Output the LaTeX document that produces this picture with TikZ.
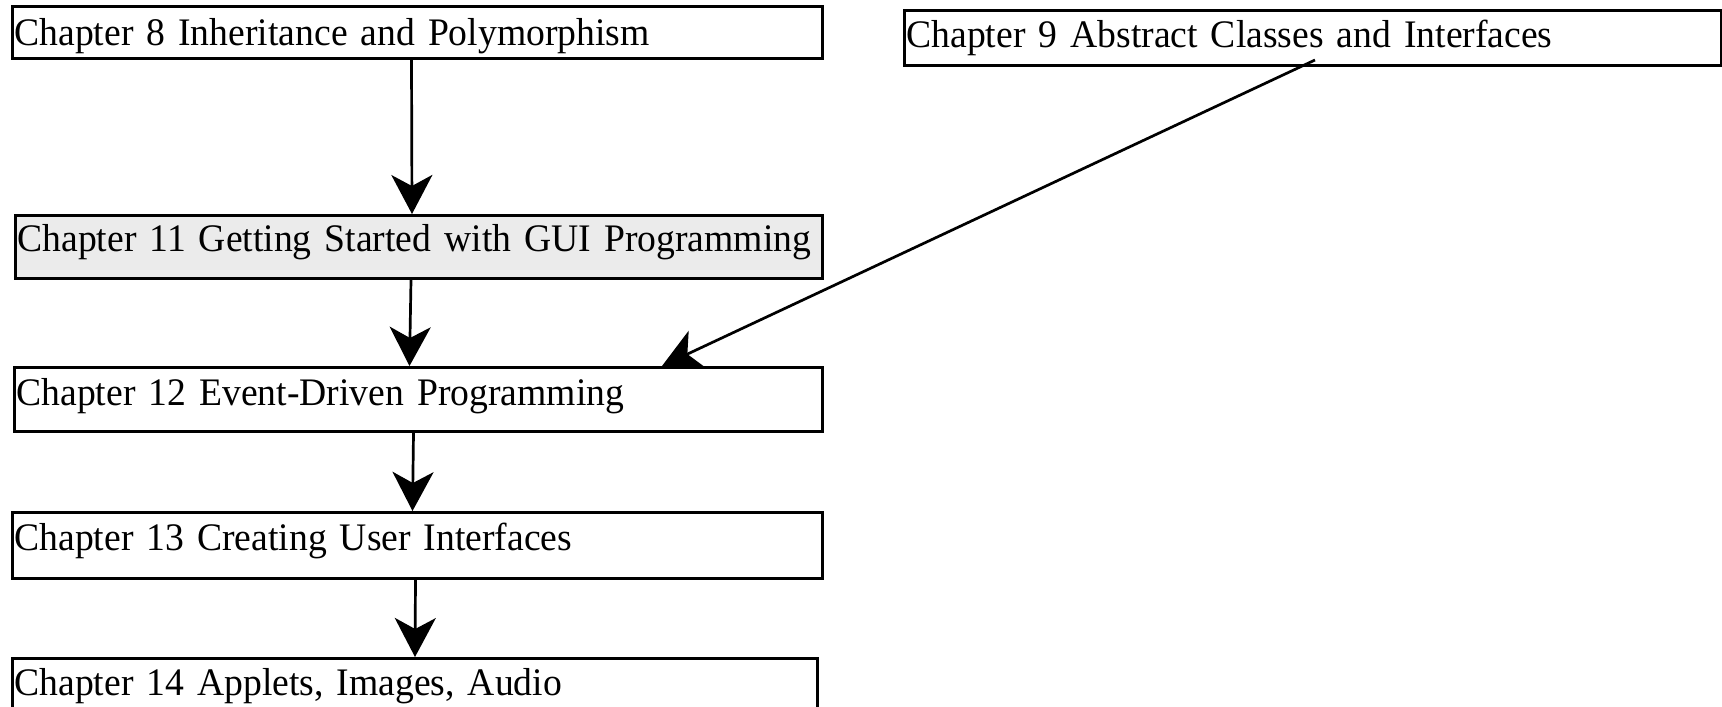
\documentclass[tikz,border=0pt]{standalone}
\usepackage{fontspec}
\setmainfont{Liberation Serif}[FakeStretch=0.965]
\usetikzlibrary{arrows.meta,calc}

\tikzset{
  chapbox/.style={draw=black, line width=3pt, rectangle, anchor=north west,
    inner xsep=2pt, inner ysep=0pt, align=left, text height=26pt,
    font=\fontsize{39}{42}\selectfont},
  flow/.style={line width=2.7pt, -{Stealth[length=39pt,width=41pt,inset=11pt]}},
}

\begin{document}
\begin{tikzpicture}[x=1pt,y=-1pt]
  \useasboundingbox (0,0) rectangle (1722,707);

  % chapter boxes
  \node[chapbox, minimum width=810pt, minimum height=52pt, text width=806pt, text depth=0pt]
    (b8) at (11,5) {Chapter 8 Inheritance and Polymorphism};
  \node[chapbox, minimum width=817pt, minimum height=55pt, text width=813pt, text depth=7pt]
    (b9) at (903,9) {Chapter 9 Abstract Classes and Interfaces};
  \node[chapbox, fill=black!8, minimum width=807pt, minimum height=63pt, text width=803pt, text depth=17pt]
    (b11) at (14,214) {Chapter 11 Getting Started with GUI Programming};
  \node[chapbox, minimum width=808pt, minimum height=64pt, text width=804pt, text depth=14pt]
    (b12) at (13,366) {Chapter 12 Event-Driven Programming};
  \node[chapbox, minimum width=810pt, minimum height=66pt, text width=806pt, text depth=16pt]
    (b13) at (11,511) {Chapter 13 Creating User Interfaces};
  \node[chapbox, minimum width=805pt, minimum height=63pt, text width=801pt, text depth=15pt]
    (b14) at (11,657) {Chapter 14 Applets, Images, Audio};

  % dependencies
  \draw[flow] ([xshift=-6pt]b8.south) -- ([xshift=-7pt]b11.north);
  \draw[flow] ([xshift=-8pt]b11.south) -- ([xshift=-9pt]b12.north);
  \draw[flow] ([xshift=-5pt]b12.south) -- ([xshift=-5pt]b13.north);
  \draw[flow] ([xshift=-2pt]b13.south) -- ([xshift=0pt]b14.north);
  \draw[flow] ($(b9.south west)+(412,-7)$) -- ($(b12.north west)+(649,0)$);
\end{tikzpicture}
\end{document}
